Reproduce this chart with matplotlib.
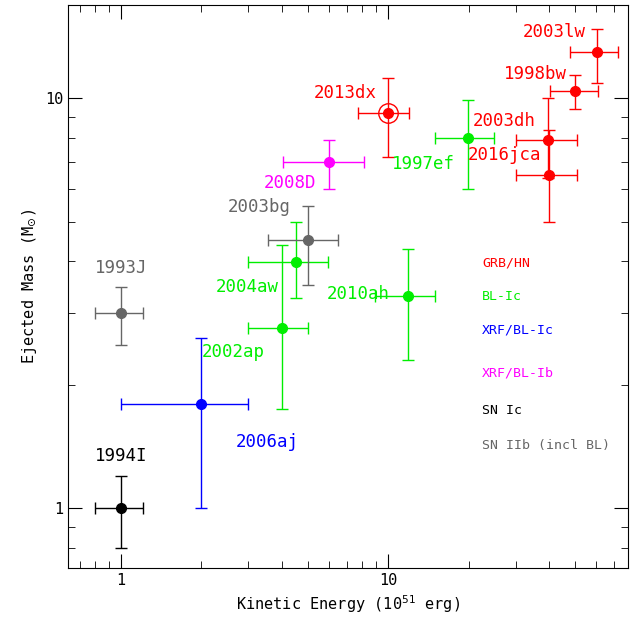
import matplotlib
matplotlib.use("Agg")
import matplotlib.pyplot as plt
from matplotlib.ticker import LogLocator, NullFormatter, FixedLocator, FixedFormatter

plt.rcParams["font.family"] = "DejaVu Sans Mono"
plt.rcParams["mathtext.fontset"] = "dejavusans"

# name, energy, e_lo, e_hi, mass, m_lo, m_hi, colour
names = ["1994I", "1993J", "2006aj", "2002ap", "2004aw", "2003bg", "2008D",
         "2010ah", "1997ef", "2013dx", "2003dh", "2016jca", "1998bw", "2003lw"]
energy = [1, 1, 2, 4.0, 4.5, 5.0, 6.0, 11.9, 19.9, 10, 39.7, 40, 50, 60.6]
energy_lo = [0.8, 0.8, 1.0, 3.0, 3.0, 3.55, 4.04, 8.9, 15, 7.7, 30, 30, 40.3, 48]
energy_hi = [1.21, 1.21, 3.0, 5.0, 5.96, 6.5, 8.1, 15, 25, 12, 51, 51, 61, 72.6]
mass = [1.0, 3.0, 1.8, 2.75, 3.98, 4.5, 7.0, 3.3, 8.0, 9.2, 7.9, 6.5, 10.4, 12.95]
mass_lo = [0.8, 2.5, 1.0, 1.75, 3.25, 3.5, 6.0, 2.3, 6.0, 7.2, 6.4, 5.0, 9.4, 10.9]
mass_hi = [1.2, 3.46, 2.6, 4.39, 4.98, 5.45, 7.9, 4.28, 9.9, 11.2, 10, 8.35, 11.4, 14.8]
kinds = ["SN Ic", "SN IIb", "XRF/BL-Ic", "BL-Ic", "BL-Ic", "SN IIb", "XRF/BL-Ib",
         "BL-Ic", "BL-Ic", "GRB/HN", "GRB/HN", "GRB/HN", "GRB/HN", "GRB/HN"]
label_x = [1, 1, 3.53, 2.63, 2.96, 3.3, 4.3, 7.7, 13.6, 6.9, 27.2, 27.2, 35.5, 42]
label_y = [1.34, 3.85, 1.45, 2.4, 3.46, 5.42, 6.2, 3.34, 6.93, 10.3, 8.8, 7.27, 11.5, 14.5]

legend_names = ["GRB/HN", "BL-Ic", "XRF/BL-Ic", "XRF/BL-Ib", "SN Ic", "SN IIb (incl BL)"]
legend_keys = ["GRB/HN", "BL-Ic", "XRF/BL-Ic", "XRF/BL-Ib", "SN Ic", "SN IIb"]
legend_y = [3.96, 3.29, 2.72, 2.14, 1.73, 1.42]
colours = {"GRB/HN": "#ff0000", "BL-Ic": "#00ee00", "XRF/BL-Ic": "#0000ff",
           "XRF/BL-Ib": "#ff00ff", "SN Ic": "#000000", "SN IIb": "#666666"}

fig = plt.figure(figsize=(6.3, 6.25), dpi=100)
ax = fig.add_axes([0.108, 0.091, 0.889, 0.901])
ax.set_xscale("log")
ax.set_yscale("log")

for i, name in enumerate(names):
    c = colours[kinds[i]]
    ax.errorbar(energy[i], mass[i],
                xerr=[[energy[i] - energy_lo[i]], [energy_hi[i] - energy[i]]],
                yerr=[[mass[i] - mass_lo[i]], [mass_hi[i] - mass[i]]],
                fmt="o", color=c, ms=7, lw=1, capsize=4)
    ax.text(label_x[i], label_y[i], name, color=c, fontsize=12.5,
            ha="center", va="center")
    if name == "2013dx":
        ax.plot(energy[i], mass[i], "o", mfc="none", mec=c, ms=14, mew=1)

for name, key, y in zip(legend_names, legend_keys, legend_y):
    ax.text(22.5, y, name, color=colours[key], fontsize=9.5, ha="left", va="center")

ax.set_xlim(0.633, 79.2)
ax.set_ylim(0.714, 16.9)
ax.xaxis.set_major_locator(FixedLocator([1, 10]))
ax.xaxis.set_major_formatter(FixedFormatter(["1", "10"]))
ax.yaxis.set_major_locator(FixedLocator([1, 10]))
ax.yaxis.set_major_formatter(FixedFormatter(["1", "10"]))
for axis in (ax.xaxis, ax.yaxis):
    axis.set_minor_locator(LogLocator(base=10, subs=range(2, 10)))
    axis.set_minor_formatter(NullFormatter())
ax.tick_params(which="both", direction="in", top=True, right=True, labelsize=11)
ax.tick_params(which="major", length=10)
ax.tick_params(which="minor", length=5)

ax.set_xlabel("Kinetic Energy (10$^{51}$ erg)", fontsize=11)
ax.set_ylabel("Ejected Mass (M$_{\\odot}$)", fontsize=11)

fig.savefig("out.png", dpi=100)
